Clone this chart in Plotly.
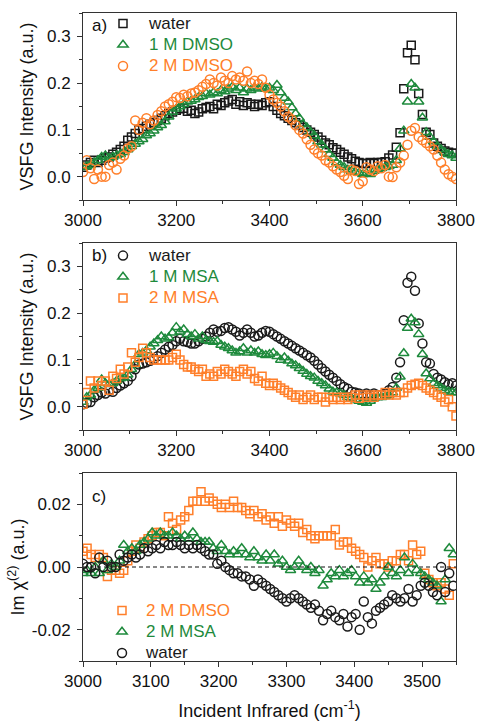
import plotly.graph_objects as go

# ---------------- data ----------------
WN_AB = list(range(3000, 3801, 8))      # 101 points, panels a & b
WN_C = list(range(3000, 3547, 6))       # 92 points, panel c

a_water = [0.020,0.025,0.030,0.035,0.030,0.035,0.040,0.042,0.048,0.052,
           0.058,0.065,0.078,0.085,0.092,0.100,0.103,0.108,0.112,0.116,
           0.120,0.125,0.130,0.135,0.138,0.142,0.145,0.146,0.140,0.142,
           0.135,0.138,0.145,0.148,0.150,0.145,0.155,0.152,0.158,0.162,
           0.165,0.155,0.160,0.152,0.158,0.155,0.150,0.155,0.152,0.158,
           0.160,0.150,0.142,0.135,0.130,0.125,0.120,0.115,0.110,0.105,
           0.100,0.095,0.090,0.085,0.078,0.072,0.068,0.062,0.058,0.052,
           0.048,0.042,0.038,0.033,0.030,0.028,0.028,0.030,0.028,0.030,
           0.030,0.032,0.040,0.046,0.063,0.094,0.188,0.265,0.281,0.250,
           0.178,0.133,0.095,0.090,0.072,0.065,0.060,0.055,0.052,0.050,
           0.050]

a_dmso1 = [0.020,0.022,0.025,0.030,0.035,0.042,0.045,0.040,0.042,0.045,
           0.048,0.052,0.058,0.065,0.070,0.075,0.080,0.088,0.092,0.098,
           0.105,0.110,0.118,0.128,0.138,0.145,0.150,0.155,0.160,0.162,
           0.165,0.170,0.172,0.178,0.175,0.180,0.178,0.185,0.182,0.188,
           0.192,0.185,0.190,0.180,0.188,0.185,0.190,0.188,0.192,0.188,
           0.190,0.185,0.196,0.180,0.168,0.160,0.148,0.135,0.125,0.112,
           0.105,0.095,0.088,0.075,0.068,0.058,0.048,0.040,0.030,0.025,
           0.020,0.015,0.012,0.010,0.008,0.005,0.008,0.005,0.012,0.015,
           0.018,0.020,0.022,0.025,0.035,0.060,0.098,0.160,0.198,0.190,
           0.160,0.126,0.095,0.085,0.075,0.065,0.058,0.052,0.048,0.045,
           0.040]

a_dmso2 = [0.010,0.035,0.018,-0.005,0.015,0.000,0.000,0.025,0.030,0.015,
           0.038,0.045,0.060,0.065,0.120,0.100,0.115,0.125,0.112,0.120,
           0.132,0.140,0.150,0.155,0.160,0.170,0.168,0.175,0.172,0.178,
           0.180,0.185,0.192,0.198,0.208,0.200,0.195,0.212,0.205,0.200,
           0.215,0.208,0.212,0.205,0.225,0.200,0.205,0.198,0.208,0.190,
           0.175,0.165,0.158,0.150,0.140,0.128,0.122,0.110,0.100,0.092,
           0.080,0.068,0.058,0.050,0.045,0.035,0.030,0.022,0.015,0.010,
           0.002,-0.005,0.015,0.012,-0.016,-0.010,0.020,0.015,0.012,0.022,
           0.018,0.025,0.000,-0.001,0.020,0.030,0.045,0.068,0.098,0.104,
           0.085,0.078,0.072,0.065,0.058,0.045,0.030,0.015,0.005,0.000,
           -0.005]

b_water = [0.005,0.008,0.010,0.020,0.025,0.030,0.028,0.035,0.032,0.040,
           0.045,0.050,0.055,0.065,0.080,0.090,0.092,0.095,0.098,0.102,
           0.108,0.115,0.122,0.128,0.132,0.140,0.145,0.140,0.138,0.135,
           0.135,0.140,0.145,0.150,0.158,0.165,0.160,0.162,0.168,0.170,
           0.165,0.160,0.152,0.158,0.165,0.158,0.150,0.152,0.158,0.162,
           0.160,0.155,0.150,0.145,0.140,0.135,0.130,0.125,0.120,0.115,
           0.110,0.105,0.098,0.090,0.082,0.075,0.068,0.062,0.055,0.048,
           0.042,0.038,0.032,0.030,0.028,0.025,0.028,0.025,0.028,0.025,
           0.025,0.028,0.035,0.042,0.062,0.095,0.185,0.265,0.278,0.248,
           0.178,0.135,0.095,0.092,0.070,0.062,0.058,0.052,0.048,0.050,
           0.045]

b_msa1 = [0.010,0.020,0.025,0.035,0.040,0.058,0.050,0.048,0.050,0.055,
          0.060,0.062,0.068,0.080,0.090,0.112,0.115,0.120,0.128,0.135,
          0.142,0.150,0.145,0.148,0.158,0.170,0.160,0.165,0.155,0.150,
          0.155,0.145,0.150,0.142,0.140,0.138,0.140,0.132,0.128,0.125,
          0.120,0.115,0.118,0.125,0.115,0.120,0.115,0.118,0.112,0.110,
          0.112,0.115,0.108,0.100,0.105,0.098,0.092,0.088,0.082,0.076,
          0.070,0.065,0.062,0.055,0.050,0.045,0.038,0.032,0.030,0.028,
          0.025,0.020,0.018,0.015,0.012,0.010,0.008,0.012,0.018,0.020,
          0.020,0.022,0.025,0.030,0.040,0.064,0.114,0.168,0.188,0.180,
          0.155,0.112,0.071,0.060,0.050,0.045,0.040,0.035,0.032,0.030,
          0.030]

b_msa2 = [0.005,0.030,0.055,0.040,0.055,0.045,0.055,0.035,0.065,0.060,
          0.080,0.070,0.085,0.115,0.095,0.105,0.125,0.115,0.105,0.100,
          0.100,0.100,0.100,0.100,0.105,0.112,0.100,0.090,0.085,0.085,
          0.080,0.075,0.080,0.065,0.070,0.065,0.075,0.070,0.080,0.075,
          0.070,0.065,0.075,0.080,0.070,0.075,0.060,0.055,0.065,0.050,
          0.045,0.050,0.045,0.040,0.035,0.030,0.025,0.020,0.025,0.015,
          0.020,0.025,0.015,0.020,0.020,0.010,0.020,0.015,0.020,0.015,
          0.020,0.015,0.020,0.025,0.018,0.025,0.020,0.025,0.020,0.025,
          0.025,0.030,0.025,0.030,0.025,0.030,0.030,0.040,0.045,0.048,
          0.050,0.045,0.040,0.035,0.030,0.025,0.020,0.010,0.015,0.000,
          -0.020]

c_dmso = [0.005,0.006,0.004,0.003,0.004,0.003,-0.003,-0.001,-0.001,-0.002,
          -0.001,0.002,0.005,0.007,0.006,0.008,0.009,0.010,0.011,0.011,
          0.010,0.016,0.014,0.012,0.015,0.016,0.018,0.021,0.021,0.024,
          0.021,0.022,0.021,0.020,0.019,0.020,0.019,0.021,0.019,0.019,
          0.018,0.017,0.018,0.016,0.017,0.015,0.016,0.014,0.016,0.013,
          0.015,0.014,0.013,0.014,0.011,0.012,0.010,0.009,0.010,0.010,
          0.010,0.010,0.012,0.007,0.008,0.008,0.006,0.005,0.004,0.003,
          0.000,0.002,0.003,0.001,0.001,0.000,0.002,0.002,0.004,0.004,
          0.002,0.007,0.004,0.005,-0.002,-0.004,-0.005,-0.006,-0.005,-0.007,
          -0.009,0.001]

c_msa = [-0.002,-0.001,-0.002,0.000,-0.002,0.002,-0.001,0.001,0.000,0.002,
         0.007,0.005,0.006,0.005,0.007,0.008,0.009,0.011,0.010,0.011,
         0.010,0.010,0.011,0.010,0.009,0.010,0.009,0.011,0.009,0.008,
         0.008,0.008,0.006,0.005,0.007,0.005,0.004,0.005,0.004,0.006,
         0.004,0.003,0.005,0.003,0.002,0.004,0.002,0.004,0.001,0.002,
         0.000,-0.001,0.000,0.002,0.000,-0.001,0.000,-0.002,-0.001,-0.006,
         -0.004,-0.002,-0.003,-0.001,-0.003,-0.002,-0.001,-0.003,-0.005,-0.003,
         -0.005,-0.004,-0.007,-0.005,-0.003,0.000,-0.002,-0.003,-0.001,0.003,
         -0.002,0.001,-0.001,-0.002,-0.003,-0.004,-0.005,-0.006,-0.011,-0.004,
         0.006,0.004]

c_water = [0.001,0.000,0.000,-0.002,0.003,0.000,0.002,0.000,0.000,0.004,
           0.002,0.003,0.004,0.003,0.004,0.006,0.005,0.006,0.007,0.006,
           0.008,0.007,0.007,0.008,0.007,0.006,0.007,0.006,0.007,0.006,
           0.005,0.004,0.004,0.001,0.002,0.000,-0.001,-0.002,-0.002,-0.003,
           -0.003,-0.004,-0.006,-0.004,-0.005,-0.006,-0.007,-0.008,-0.009,-0.010,
           -0.011,-0.010,-0.009,-0.010,-0.011,-0.012,-0.013,-0.012,-0.014,-0.017,
           -0.015,-0.014,-0.016,-0.017,-0.015,-0.019,-0.016,-0.015,-0.020,-0.011,
           -0.016,-0.018,-0.014,-0.013,-0.012,-0.011,-0.009,-0.010,-0.011,-0.010,
           -0.007,-0.011,-0.009,-0.006,-0.005,-0.006,-0.008,-0.009,0.000,-0.008,
           -0.002,-0.006]

XTICKS_AB = [3000, 3200, 3400, 3600, 3800]
YTICKS_AB = [0.0, 0.1, 0.2, 0.3]
YTICKS_C = [-0.02, 0.0, 0.02]
YTICKTEXT_C = ["-0.02", "0.00", "0.02"]

# ---------------- style ----------------
BLACK = "#1a1a1a"
GREEN = "#1e8a3c"
ORANGE = "#ff7f2a"
FONT = "Liberation Sans, Arial, sans-serif"
W, HT = 478, 721
MT, MB = 8, 60
PW = 373.0                 # plot width in px
H = float(HT - MT - MB)    # paper height in px
BOT = HT - MB              # pixel row of paper bottom

def py(p):
    """pixel row -> paper fraction"""
    return (BOT - p) / H

def mk(symbol, color, size):
    return dict(symbol=symbol, size=size, color=color,
                line=dict(color=color, width=1.5))

def nm(text, color):
    return f"<span style='color:{color};font-size:17px'>{text}</span>"

fig = go.Figure()

# panel a
fig.add_trace(go.Scatter(x=WN_AB, y=a_water, mode="markers", name=nm("water", BLACK),
                         marker=mk("square-open", BLACK, 8), xaxis="x", yaxis="y", legend="legend"))
fig.add_trace(go.Scatter(x=WN_AB, y=a_dmso1, mode="markers", name=nm("1 M DMSO", GREEN),
                         marker=mk("triangle-up-open", GREEN, 9), xaxis="x", yaxis="y", legend="legend"))
fig.add_trace(go.Scatter(x=WN_AB, y=a_dmso2, mode="markers", name=nm("2 M DMSO", ORANGE),
                         marker=mk("circle-open", ORANGE, 9), xaxis="x", yaxis="y", legend="legend"))
# panel b
fig.add_trace(go.Scatter(x=WN_AB, y=b_water, mode="markers", name=nm("water", BLACK),
                         marker=mk("circle-open", BLACK, 9), xaxis="x2", yaxis="y2", legend="legend2"))
fig.add_trace(go.Scatter(x=WN_AB, y=b_msa1, mode="markers", name=nm("1 M MSA", GREEN),
                         marker=mk("triangle-up-open", GREEN, 9), xaxis="x2", yaxis="y2", legend="legend2"))
fig.add_trace(go.Scatter(x=WN_AB, y=b_msa2, mode="markers", name=nm("2 M MSA", ORANGE),
                         marker=mk("square-open", ORANGE, 8), xaxis="x2", yaxis="y2", legend="legend2"))
# panel c
fig.add_trace(go.Scatter(x=WN_C, y=c_dmso, mode="markers", name=nm("2 M DMSO", ORANGE),
                         marker=mk("square-open", ORANGE, 8), xaxis="x3", yaxis="y3", legend="legend3"))
fig.add_trace(go.Scatter(x=WN_C, y=c_msa, mode="markers", name=nm("2 M MSA", GREEN),
                         marker=mk("triangle-up-open", GREEN, 9), xaxis="x3", yaxis="y3", legend="legend3"))
fig.add_trace(go.Scatter(x=WN_C, y=c_water, mode="markers", name=nm("water", BLACK),
                         marker=mk("circle-open", BLACK, 9), xaxis="x3", yaxis="y3", legend="legend3"))

axcommon = dict(showline=True, linecolor="#333", linewidth=1, mirror=True,
                ticks="outside", ticklen=5, tickwidth=1, tickcolor="#333",
                showgrid=False, zeroline=False, ticklabeloverflow="allow", automargin=False,
                tickfont=dict(size=17, color="#111", family=FONT))
yextra = dict(ticklabelstandoff=3)

dom_a = [py(200), py(13)]
dom_b = [py(430), py(243)]
dom_c = [py(661), py(473)]

ytitle = dict(text="VSFG Intensity (a.u.)", font=dict(size=18, color="#111", family=FONT), standoff=8)

leg = dict(bgcolor="rgba(0,0,0,0)", font=dict(size=14, family=FONT),
           xanchor="left", yanchor="top", tracegroupgap=0)

fig.update_layout(
    width=W, height=HT,
    margin=dict(l=83, r=22, t=MT, b=MB),
    paper_bgcolor="white", plot_bgcolor="white",
    font=dict(family=FONT, color="#111"),
    xaxis=dict(domain=[0, 1], anchor="y", range=[3000, 3800], tickvals=XTICKS_AB,
               minor=dict(ticks="outside", ticklen=3, dtick=100, tickcolor="#333"), **axcommon),
    yaxis=dict(domain=dom_a, anchor="x", range=[-0.05, 0.35], tickvals=YTICKS_AB, tickformat=".1f",
               minor=dict(ticks="outside", ticklen=3, dtick=0.05, tickcolor="#333"), title=ytitle,
               **axcommon, **yextra),
    xaxis2=dict(domain=[0, 1], anchor="y2", range=[3000, 3800], tickvals=XTICKS_AB,
                minor=dict(ticks="outside", ticklen=3, dtick=100, tickcolor="#333"), **axcommon),
    yaxis2=dict(domain=dom_b, anchor="x2", range=[-0.05, 0.35], tickvals=YTICKS_AB, tickformat=".1f",
                minor=dict(ticks="outside", ticklen=3, dtick=0.05, tickcolor="#333"), title=ytitle,
                **axcommon, **yextra),
    xaxis3=dict(domain=[0, 1], anchor="y3", range=[3000, 3550], dtick=100,
                minor=dict(ticks="outside", ticklen=3, dtick=50, tickcolor="#333"),
                title=dict(text="Incident Infrared (cm<sup>-1</sup>)",
                           font=dict(size=18, color="#111", family=FONT), standoff=25),
                **axcommon),
    yaxis3=dict(domain=dom_c, anchor="x3", range=[-0.03, 0.03], tickvals=YTICKS_C, ticktext=YTICKTEXT_C,
                minor=dict(ticks="outside", ticklen=3, dtick=0.01, tickcolor="#333"),
                title=dict(text="Im χ<sup>(2)</sup> (a.u.)", font=dict(size=18, color="#111", family=FONT),
                           standoff=2),
                **axcommon, **yextra),
    legend=dict(x=(97 - 83) / PW, y=1.0, itemwidth=42, **leg),
    legend2=dict(x=(97 - 83) / PW, y=py(240), itemwidth=42, **leg),
    legend3=dict(x=(98 - 83) / PW, y=py(595), itemwidth=38, **leg),
    showlegend=True,
)

for xr, yr, lab, yy in [("x", "y", "a)", 0.935), ("x2", "y2", "b)", 0.935), ("x3", "y3", "c)", 0.875)]:
    fig.add_annotation(xref=f"{xr} domain", yref=f"{yr} domain", x=0.018, y=yy, text=lab,
                       showarrow=False, xanchor="left", yanchor="middle",
                       font=dict(size=17, color="#111", family=FONT))

fig.add_shape(type="line", xref="x3 domain", yref="y3", x0=0, x1=1, y0=0, y1=0,
              line=dict(color="#111", width=1, dash="4px,3px"), layer="above")

fig.write_html("out.html", config={"displayModeBar": False},
               post_script="document.body.style.margin='0px';document.body.style.overflow='hidden';")
